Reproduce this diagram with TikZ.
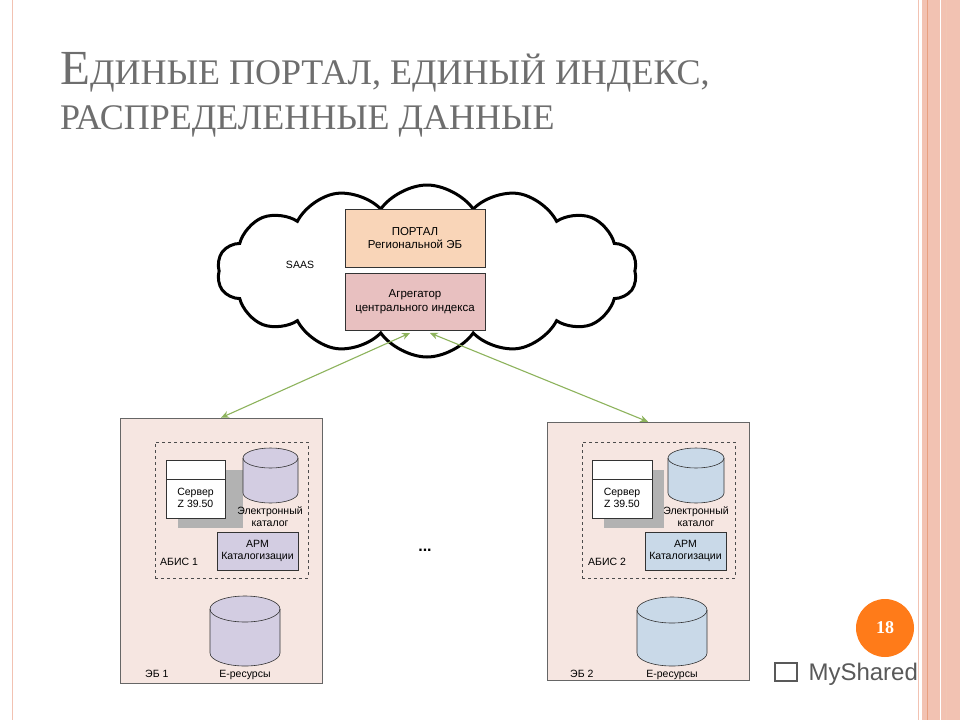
\documentclass[tikz,border=0pt]{standalone}
\usepackage{fontspec}
\setmainfont{Liberation Serif}
\newfontfamily\ars{Liberation Sans}
\usetikzlibrary{shapes.symbols,shapes.geometric,arrows.meta}
\definecolor{frame}{HTML}{F2C2B2}
\definecolor{framed}{HTML}{E8A080}
\definecolor{ebfill}{HTML}{F6E6E1}
\definecolor{portal}{HTML}{F9D5B8}
\definecolor{aggr}{HTML}{E8C0C0}
\definecolor{lav}{HTML}{D3CDE2}
\definecolor{lblue}{HTML}{C9D9E8}
\definecolor{arr}{HTML}{8DB35C}
\definecolor{titlec}{HTML}{6E6E6E}
\tikzset{
 lbl/.style={font=\ars\fontsize{11.5}{13.5}\selectfont,align=center,inner sep=0pt},
 slbl/.style={font=\ars\fontsize{10.5}{12}\selectfont,align=center,inner sep=0pt},
 boxx/.style={draw=black!80,line width=0.6pt,inner sep=0pt},
 cylline/.style={draw=black!80,line width=0.6pt},
 conn/.style={draw=arr,line width=1.1pt,{Stealth[length=8pt,width=7pt]}-{Stealth[length=8pt,width=7pt]}},
 ttl/.style={anchor=base west,inner sep=0pt,text=titlec}
}
\begin{document}
\begin{tikzpicture}[x=1pt,y=-1pt]
\useasboundingbox (0,0) rectangle (960,720);
\fill[white] (0,0) rectangle (960,720);
% frame
\draw[frame,line width=1pt] (12,0) -- (12,720);
\draw[frame,line width=1pt] (918,0) -- (918,720);
\fill[frame] (922,0) rectangle (960,720);
\draw[framed,line width=1pt] (927,0) -- (927,720);
\draw[white,line width=1pt] (940,0) -- (940,720);
\draw[framed!60,line width=0.8pt] (946,0) -- (946,720);
% title
\node[ttl] (t1) at (60,84) {\fontsize{49}{54}\selectfont Е\fontsize{36}{40}\selectfont ДИНЫЕ ПОРТАЛ, ЕДИНЫЙ ИНДЕКС,};
\node[ttl] (t2) at (60,129) {\fontsize{36}{40}\selectfont РАСПРЕДЕЛЕННЫЕ ДАННЫЕ};
% cloud
\node[cloud,cloud puffs=14,cloud puff arc=110,aspect=2.5,draw=black,line width=3pt,minimum width=420pt,minimum height=172pt] (cloud) at (427,271) {};
\node[slbl] (saas) at (300,265) {SAAS};
\node[boxx,lbl,fill=portal,minimum width=140pt,minimum height=58pt] (portal) at (415,238) {ПОРТАЛ\\Региональной ЭБ};
\node[boxx,lbl,fill=aggr,minimum width=140pt,minimum height=57pt] (aggr) at (415,301.5) {Агрегатор\\центрального индекса};
% left EB
\node[draw=black!60,line width=0.5pt,fill=ebfill,minimum width=202pt,minimum height=265pt] (eb1) at (221,550.5) {};
\node[draw=black!70,dashed,line width=0.5pt,minimum width=153pt,minimum height=136pt] (abis1) at (231.5,510) {};
\fill[black!30] (178,470) rectangle (243,528);
\node[boxx,fill=white,minimum width=59pt,minimum height=58pt] (srv1) at (195.5,489) {};
\draw[black!80,line width=0.6pt] (166,479) -- (225,479);
\node[slbl] (srv1t) at (195.5,498) {Сервер\\Z 39.50};
\filldraw[cylline,fill=lav] (243,458) -- (243,493) arc[start angle=180,end angle=360,x radius=27.5,y radius=-10] -- (298,458) arc[start angle=0,end angle=-180,x radius=27.5,y radius=10] -- cycle;
\draw[cylline] (243,458) arc[start angle=180,end angle=360,x radius=27.5,y radius=-10];
\node[slbl] (cat1t) at (270,517) {Электронный\\каталог};
\node[boxx,slbl,fill=lav,minimum width=81pt,minimum height=38pt] (arm1) at (257.5,551) {АРМ\\Каталогизации};
\node[slbl,anchor=west] (abis1t) at (160,562) {АБИС 1};
\filldraw[cylline,fill=lav] (210,609) -- (210,653) arc[start angle=180,end angle=360,x radius=35,y radius=-13] -- (280,609) arc[start angle=0,end angle=-180,x radius=35,y radius=13] -- cycle;
\draw[cylline] (210,609) arc[start angle=180,end angle=360,x radius=35,y radius=-13];
\node[slbl] (er1t) at (245,675) {Е-ресурсы};
\node[slbl,anchor=west] (eb1t) at (145,674) {ЭБ 1};
% right EB
\node[draw=black!60,line width=0.5pt,fill=ebfill,minimum width=202pt,minimum height=258pt] (eb2) at (648,551) {};
\node[draw=black!70,dashed,line width=0.5pt,minimum width=153pt,minimum height=136pt] (abis2) at (658.5,510) {};
\fill[black!30] (604,470) rectangle (664,528);
\node[boxx,fill=white,minimum width=60pt,minimum height=58pt] (srv2) at (622,489) {};
\draw[black!80,line width=0.6pt] (592,479) -- (652,479);
\node[slbl] (srv2t) at (622,498) {Сервер\\Z 39.50};
\filldraw[cylline,fill=lblue] (668,458) -- (668,493) arc[start angle=180,end angle=360,x radius=28,y radius=-10] -- (724,458) arc[start angle=0,end angle=-180,x radius=28,y radius=10] -- cycle;
\draw[cylline] (668,458) arc[start angle=180,end angle=360,x radius=28,y radius=-10];
\node[slbl] (cat2t) at (696,517) {Электронный\\каталог};
\node[boxx,slbl,fill=lblue,minimum width=81pt,minimum height=38pt] (arm2) at (685.5,551) {АРМ\\Каталогизации};
\node[slbl,anchor=west] (abis2t) at (588,562) {АБИС 2};
\filldraw[cylline,fill=lblue] (637,610) -- (637,653) arc[start angle=180,end angle=360,x radius=35,y radius=-13] -- (707,610) arc[start angle=0,end angle=-180,x radius=35,y radius=13] -- cycle;
\draw[cylline] (637,610) arc[start angle=180,end angle=360,x radius=35,y radius=-13];
\node[slbl] (er2t) at (672,675) {Е-ресурсы};
\node[slbl,anchor=west] (eb2t) at (570,674) {ЭБ 2};
\node[font=\ars\bfseries\fontsize{16}{16}\selectfont] (dots) at (425,550) {...};
% connectors
\coordinate (a1) at (410,333);
\coordinate (a2) at (430,333);
\draw[conn] (a1) -- (eb1.north);
\draw[conn] (a2) -- (eb2.north);
% badge
\node[circle,fill=orange!85!red!90,minimum size=58pt,text=white,font=\bfseries\fontsize{18}{18}\selectfont] (badge) at (885,628) {18};
\node[anchor=west,text=black!65,font=\ars\fontsize{24}{24}\selectfont] (ms) at (805,674) {MyShared};
\node[draw=black!65,line width=1.3pt,minimum width=22pt,minimum height=18pt] (logo) at (786,672) {};
\end{tikzpicture}
\end{document}
